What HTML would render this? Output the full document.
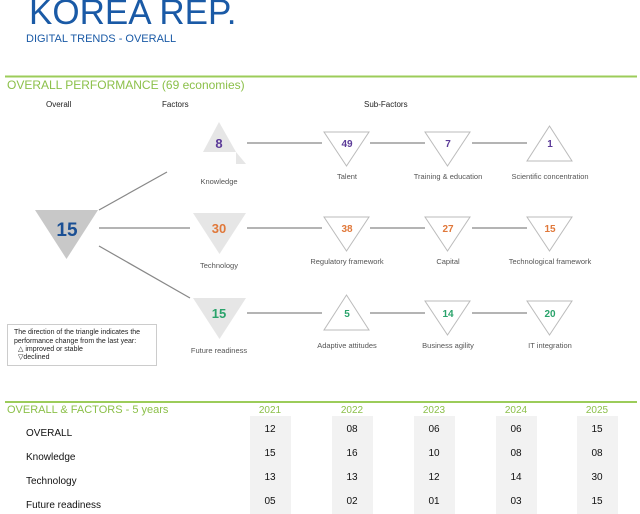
<!DOCTYPE html>
<html><head><meta charset="utf-8"><style>
html,body{margin:0;padding:0;background:#fff;}
svg{display:block;}
text{font-family:"Liberation Sans",sans-serif;}
</style></head><body>
<svg width="640" height="514" viewBox="0 0 640 514" xmlns="http://www.w3.org/2000/svg">
<text x="29" y="24" font-size="35" fill="#1a5aa6">KOREA REP.</text>
<text x="26" y="42" font-size="11" fill="#1a5aa6">DIGITAL TRENDS - OVERALL</text>
<line x1="5" y1="76.5" x2="637" y2="76.5" stroke="#9ccc5a" stroke-width="2"/>
<text x="7" y="89" font-size="12" fill="#8cc04a">OVERALL PERFORMANCE  (69 economies)</text>
<g font-size="8" fill="#222">
<text x="46" y="107">Overall</text><text x="162" y="107">Factors</text><text x="364" y="107">Sub-Factors</text>
</g>
<g stroke="#888" stroke-width="1.2">
<line x1="99" y1="210" x2="167" y2="172"/>
<line x1="99" y1="228" x2="190" y2="228"/>
<line x1="99" y1="246" x2="190" y2="298"/>
<line x1="247" y1="143" x2="322" y2="143"/><line x1="370" y1="143" x2="425" y2="143"/><line x1="472" y1="143" x2="527" y2="143"/>
<line x1="247" y1="228" x2="322" y2="228"/><line x1="370" y1="228" x2="425" y2="228"/><line x1="472" y1="228" x2="527" y2="228"/>
<line x1="247" y1="313" x2="322" y2="313"/><line x1="370" y1="313" x2="425" y2="313"/><line x1="472" y1="313" x2="527" y2="313"/>
</g>
<polygon points="35,210 98,210 66.5,259" fill="#c8c8c8"/>
<text x="67" y="236" font-size="19" font-weight="bold" fill="#1a4f94" text-anchor="middle">15</text>
<polygon points="219,122 236,152 203,152" fill="#e6e6e6"/>
<polygon points="236,152 246,164 236,164" fill="#e6e6e6"/>
<polygon points="193,213 246,213 219.5,254" fill="#e6e6e6"/>
<polygon points="193,298 246,298 219.5,339" fill="#e6e6e6"/>
<g font-size="13" font-weight="bold" text-anchor="middle">
<text x="219" y="148" fill="#5b3a98">8</text>
<text x="219" y="233" fill="#e0783a">30</text>
<text x="219" y="318" fill="#2aa36b">15</text>
</g>
<g font-size="7.5" fill="#555" text-anchor="middle">
<text x="219" y="184">Knowledge</text><text x="219" y="268">Technology</text><text x="219" y="353">Future readiness</text>
</g>
<g fill="#fff" stroke="#bbb" stroke-width="1">
<polygon points="324,132 369,132 346.5,166"/><polygon points="425,132 470,132 447.5,166"/><polygon points="527,161 572,161 549.5,126"/>
<polygon points="324,217 369,217 346.5,251"/><polygon points="425,217 470,217 447.5,251"/><polygon points="527,217 572,217 549.5,251"/>
<polygon points="324,330 369,330 346.5,295"/><polygon points="425,301 470,301 447.5,335"/><polygon points="527,301 572,301 549.5,335"/>
</g>
<g font-size="10" font-weight="bold" text-anchor="middle">
<text x="347" y="147" fill="#5b3a98">49</text><text x="448" y="147" fill="#5b3a98">7</text><text x="550" y="147" fill="#5b3a98">1</text>
<text x="347" y="232" fill="#e0783a">38</text><text x="448" y="232" fill="#e0783a">27</text><text x="550" y="232" fill="#e0783a">15</text>
<text x="347" y="317" fill="#2aa36b">5</text><text x="448" y="317" fill="#2aa36b">14</text><text x="550" y="317" fill="#2aa36b">20</text>
</g>
<g font-size="7.5" fill="#555" text-anchor="middle">
<text x="347" y="179">Talent</text><text x="448" y="179">Training &amp; education</text><text x="550" y="179">Scientific concentration</text>
<text x="347" y="264">Regulatory framework</text><text x="448" y="264">Capital</text><text x="550" y="264">Technological framework</text>
<text x="347" y="348">Adaptive attitudes</text><text x="448" y="348">Business agility</text><text x="550" y="348">IT integration</text>
</g>
<rect x="7.5" y="324.5" width="149" height="41" fill="#fff" stroke="#ccc"/>
<g font-size="7" fill="#222">
<text x="14" y="334">The direction of the triangle indicates the</text>
<text x="14" y="343">performance change from the last year:</text>
<text x="18" y="351">△ improved or stable</text>
<text x="18" y="359">▽declined</text>
</g>
<line x1="5" y1="402" x2="637" y2="402" stroke="#9ccc5a" stroke-width="2"/>
<text x="7" y="413" font-size="11" fill="#8cc04a">OVERALL &amp; FACTORS - 5 years</text>
<g fill="#f2f2f2">
<rect x="250" y="416" width="41" height="98"/><rect x="332" y="416" width="41" height="98"/><rect x="414" y="416" width="41" height="98"/><rect x="496" y="416" width="41" height="98"/><rect x="577" y="416" width="41" height="98"/>
</g>
<g font-size="10" fill="#8cc04a" text-anchor="middle">
<text x="270" y="413">2021</text><text x="352" y="413">2022</text><text x="434" y="413">2023</text><text x="516" y="413">2024</text><text x="597" y="413">2025</text>
</g>
<g font-size="10" fill="#111">
<text x="26" y="436">OVERALL</text><text x="26" y="460">Knowledge</text><text x="26" y="484">Technology</text><text x="26" y="508">Future readiness</text>
</g>
<g font-size="10" fill="#111" text-anchor="middle">
<text x="270" y="432">12</text><text x="352" y="432">08</text><text x="434" y="432">06</text><text x="516" y="432">06</text><text x="597" y="432">15</text>
<text x="270" y="456">15</text><text x="352" y="456">16</text><text x="434" y="456">10</text><text x="516" y="456">08</text><text x="597" y="456">08</text>
<text x="270" y="480">13</text><text x="352" y="480">13</text><text x="434" y="480">12</text><text x="516" y="480">14</text><text x="597" y="480">30</text>
<text x="270" y="504">05</text><text x="352" y="504">02</text><text x="434" y="504">01</text><text x="516" y="504">03</text><text x="597" y="504">15</text>
</g>
</svg>
</body></html>
